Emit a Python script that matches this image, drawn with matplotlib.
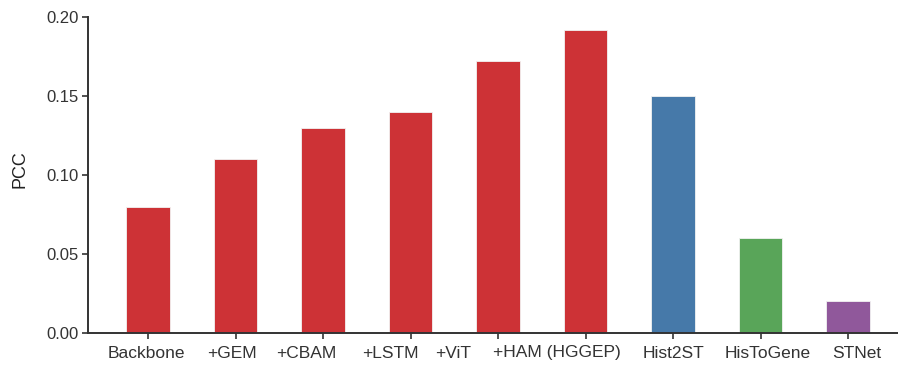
import matplotlib
matplotlib.use("Agg")
import matplotlib.pyplot as plt
from matplotlib.transforms import ScaledTranslation

methods = ["Backbone", "+GEM", "+CBAM", "+LSTM", "+ViT", "+HAM (HGGEP)",
           "Hist2ST", "HisToGene", "STNet"]
pcc = [0.080, 0.110, 0.130, 0.140, 0.172, 0.192, 0.150, 0.060, 0.020]
colors = ["#cd3236"] * 6 + ["#4679a9", "#59a559", "#90589b"]
yticks = [0.00, 0.05, 0.10, 0.15, 0.20]
# horizontal nudge of each category label, in pixels
label_shift = [-2, -4, -17, -20, -45, -29, 0, 7, 9]

plt.rcParams["font.family"] = ["Liberation Sans", "DejaVu Sans"]

fig = plt.figure(figsize=(8.98, 3.69), dpi=100)
ax = fig.add_axes([88 / 898, 1 - 333 / 369, 810 / 898, 316 / 369])

x = list(range(len(methods)))
ax.bar(x, pcc, width=0.5, color=colors, edgecolor="#f2f2f2", linewidth=0.6)

ax.set_xlim(-0.686, 8.57)
ax.set_ylim(0, 0.20)
ax.set_yticks(yticks)
ax.set_yticklabels([f"{v:.2f}" for v in yticks])
ax.set_xticks(x)
ax.set_xticklabels(methods)

for side in ("top", "right"):
    ax.spines[side].set_visible(False)
for side in ("left", "bottom"):
    ax.spines[side].set_color("#333333")
    ax.spines[side].set_linewidth(1.4)

ax.tick_params(axis="both", colors="#333333", labelcolor="#333333",
               length=4, width=1.2, direction="out", pad=3)
ax.tick_params(axis="x", labelsize=12.5, pad=5)
ax.tick_params(axis="y", labelsize=12)

for lab, dx in zip(ax.get_xticklabels(), label_shift):
    lab.set_transform(lab.get_transform() +
                      ScaledTranslation(dx / 100, 0, fig.dpi_scale_trans))

ax.set_ylabel("PCC", fontsize=13, color="#222222")
ax.yaxis.set_label_coords(-0.074, 0.52)

fig.savefig("out.png", dpi=100)
